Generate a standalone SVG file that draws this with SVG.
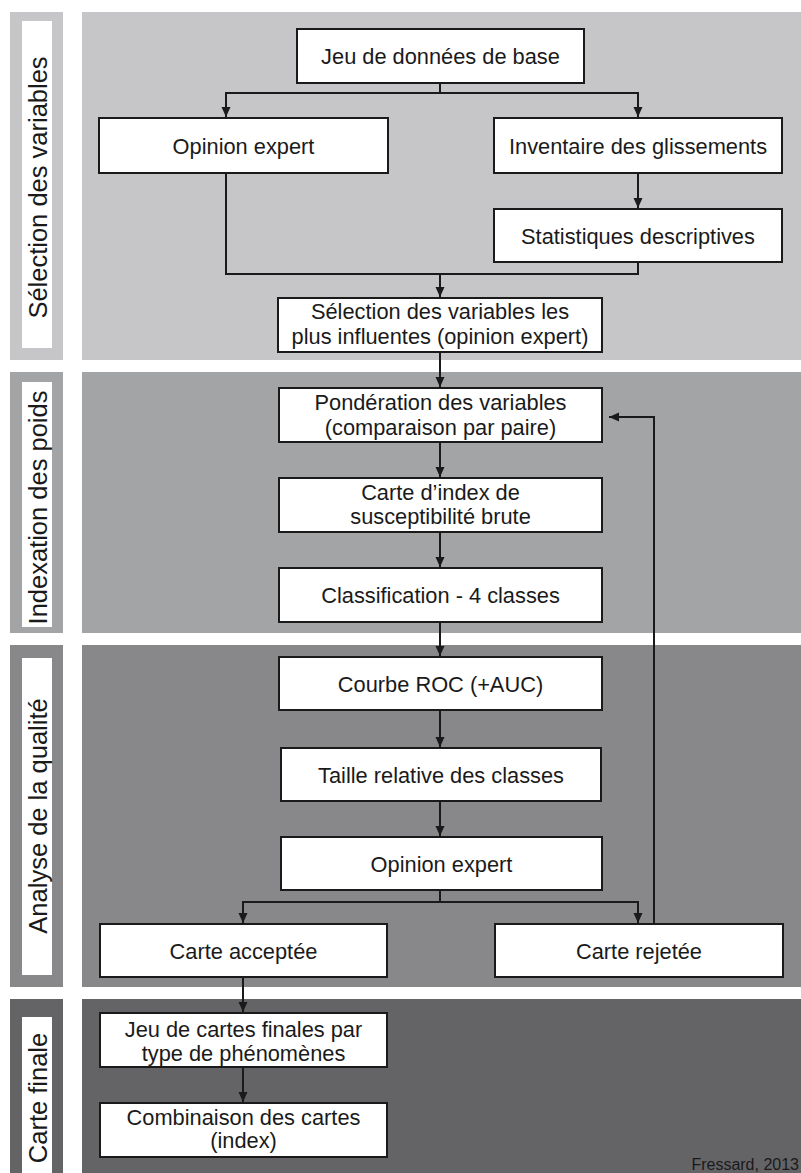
<svg xmlns="http://www.w3.org/2000/svg" width="801" height="1173" viewBox="0 0 801 1173">
<defs>
<style>
.bg{fill:#ffffff}
.s1{fill:#c6c6c9}
.s2{fill:#a3a4a6}
.s3{fill:#88888b}
.s4{fill:#646467}
.lab{fill:#ffffff}
.labt{font-family:"Liberation Sans",Arial,sans-serif;font-size:25.5px;fill:#1a1a1a;text-anchor:middle}
.box{fill:#ffffff;stroke:#1a1a1a;stroke-width:2}
.t{font-family:"Liberation Sans",Arial,sans-serif;font-size:21.8px;fill:#1a1a1a;text-anchor:middle}
.c{fill:none;stroke:#1a1a1a;stroke-width:2}
.cr{font-family:"Liberation Sans",Arial,sans-serif;font-size:16px;fill:#1a1a1a;text-anchor:end}
</style>
<marker id="ah" markerUnits="userSpaceOnUse" markerWidth="10" markerHeight="10" refX="10" refY="4.5" orient="auto" viewBox="0 0 10 9">
<path d="M0,0 L10,4.5 L0,9 z" fill="#1a1a1a"/>
</marker>
</defs>
<rect class="bg" x="0" y="0" width="801" height="1173"/>

<g id="section-selection">
<rect class="s1" x="10" y="12" width="53" height="348"/>
<rect class="s1" x="82" y="12" width="719" height="348"/>
<rect class="lab" x="22" y="21" width="30" height="327"/>
<text class="labt" transform="translate(47,187.5) rotate(-90)">Sélection des variables</text>
</g>
<g id="section-indexation">
<rect class="s2" x="10" y="372" width="53" height="261"/>
<rect class="s2" x="82" y="372" width="719" height="261"/>
<rect class="lab" x="22" y="382" width="30" height="245"/>
<text class="labt" transform="translate(47,507.5) rotate(-90)">Indexation des poids</text>
</g>
<g id="section-analyse">
<rect class="s3" x="10" y="645" width="53" height="342"/>
<rect class="s3" x="82" y="645" width="719" height="342"/>
<rect class="lab" x="22" y="658" width="30" height="317"/>
<text class="labt" transform="translate(47,816) rotate(-90)">Analyse de la qualité</text>
</g>
<g id="section-finale">
<rect class="s4" x="10" y="999" width="53" height="174"/>
<rect class="s4" x="82" y="999" width="719" height="174"/>
<rect class="lab" x="22" y="1017" width="30" height="156"/>
<text class="labt" transform="translate(47,1098) rotate(-90)">Carte finale</text>
</g>

<g id="connectors">
<path class="c" d="M440,83 V93 H226 V117" marker-end="url(#ah)"/>
<path class="c" d="M440,93 H638 V117" marker-end="url(#ah)"/>
<path class="c" d="M638,173 V208" marker-end="url(#ah)"/>
<path class="c" d="M226,173 V274 H440 V297" marker-end="url(#ah)"/>
<path class="c" d="M638,262 V274 H440"/>
<path class="c" d="M440,352 V387" marker-end="url(#ah)"/>
<path class="c" d="M440,442 V477" marker-end="url(#ah)"/>
<path class="c" d="M440,532 V567" marker-end="url(#ah)"/>
<path class="c" d="M440,622 V656" marker-end="url(#ah)"/>
<path class="c" d="M440,710 V747" marker-end="url(#ah)"/>
<path class="c" d="M440,801 V836" marker-end="url(#ah)"/>
<path class="c" d="M440,890 V902 H243 V923" marker-end="url(#ah)"/>
<path class="c" d="M440,902 H638 V923" marker-end="url(#ah)"/>
<path class="c" d="M654,924 V417 H609" marker-end="url(#ah)"/>
<path class="c" d="M243,977 V1012" marker-end="url(#ah)"/>
<path class="c" d="M243,1067 V1102" marker-end="url(#ah)"/>
</g>

<g id="n-jeu-donnees">
<rect class="box" x="297" y="29" width="287" height="54"/>
<text class="t" x="440.5" y="64">Jeu de données de base</text>
</g>
<g id="n-opinion-expert-1">
<rect class="box" x="99" y="118" width="289" height="55"/>
<text class="t" x="243.5" y="154">Opinion expert</text>
</g>
<g id="n-inventaire">
<rect class="box" x="494" y="118" width="288" height="55"/>
<text class="t" x="638" y="154">Inventaire des glissements</text>
</g>
<g id="n-statistiques">
<rect class="box" x="494" y="209" width="288" height="53"/>
<text class="t" x="638" y="243.5">Statistiques descriptives</text>
</g>
<g id="n-selection">
<rect class="box" x="278" y="298" width="324" height="54"/>
<text class="t" x="440" y="319">Sélection des variables les</text>
<text class="t" x="440" y="344">plus influentes (opinion expert)</text>
</g>
<g id="n-ponderation">
<rect class="box" x="279" y="388" width="323" height="54"/>
<text class="t" x="440.5" y="410">Pondération des variables</text>
<text class="t" x="440.5" y="435">(comparaison par paire)</text>
</g>
<g id="n-carte-index">
<rect class="box" x="279" y="478" width="323" height="54"/>
<text class="t" x="440.5" y="500">Carte d’index de</text>
<text class="t" x="440.5" y="524">susceptibilité brute</text>
</g>
<g id="n-classification">
<rect class="box" x="279" y="568" width="323" height="54"/>
<text class="t" x="440.5" y="603">Classification - 4 classes</text>
</g>
<g id="n-courbe-roc">
<rect class="box" x="279" y="657" width="323" height="53"/>
<text class="t" x="440.5" y="691.5">Courbe ROC (+AUC)</text>
</g>
<g id="n-taille">
<rect class="box" x="281" y="748" width="320" height="53"/>
<text class="t" x="441" y="782.5">Taille relative des classes</text>
</g>
<g id="n-opinion-expert-2">
<rect class="box" x="281" y="837" width="321" height="53"/>
<text class="t" x="441.5" y="871.5">Opinion expert</text>
</g>
<g id="n-carte-acceptee">
<rect class="box" x="100" y="924" width="287" height="53"/>
<text class="t" x="243.5" y="958.5">Carte acceptée</text>
</g>
<g id="n-carte-rejetee">
<rect class="box" x="495" y="924" width="288" height="53"/>
<text class="t" x="639" y="958.5">Carte rejetée</text>
</g>
<g id="n-jeu-cartes">
<rect class="box" x="100" y="1013" width="287" height="54"/>
<text class="t" x="243.5" y="1037">Jeu de cartes finales par</text>
<text class="t" x="243.5" y="1061">type de phénomènes</text>
</g>
<g id="n-combinaison">
<rect class="box" x="100" y="1103" width="287" height="54"/>
<text class="t" x="243.5" y="1125">Combinaison des cartes</text>
<text class="t" x="243.5" y="1148">(index)</text>
</g>
<text class="cr" x="799" y="1170">Fressard, 2013</text>
</svg>
